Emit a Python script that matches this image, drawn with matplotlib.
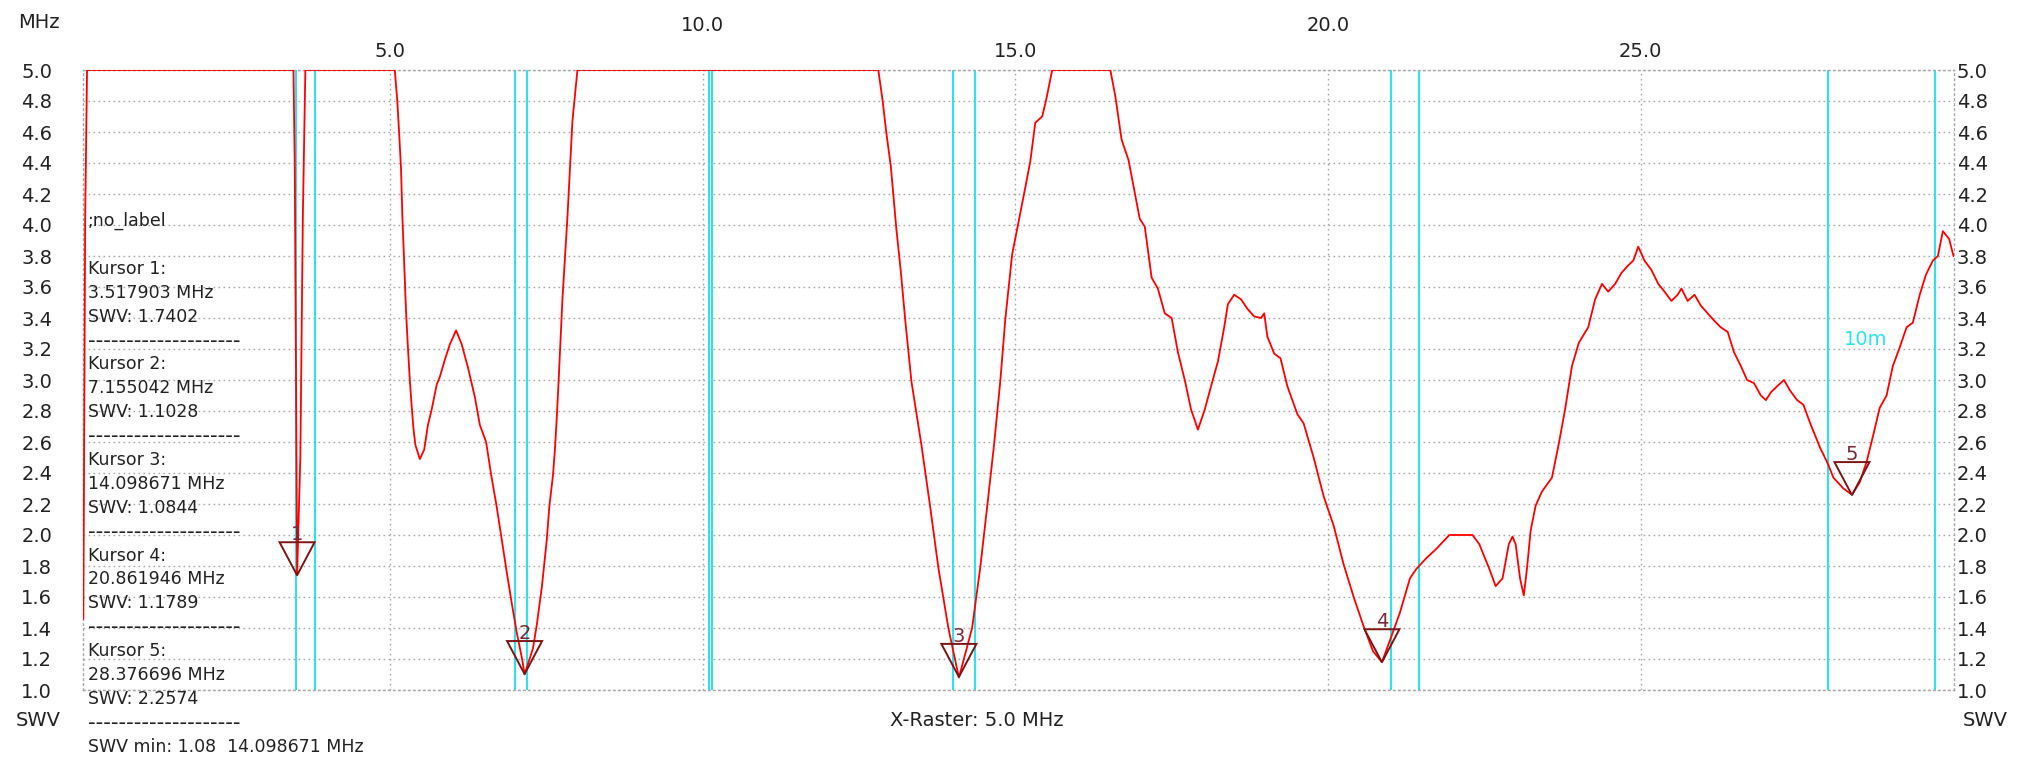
import numpy as np
import matplotlib
matplotlib.use('Agg')
import matplotlib.pyplot as plt
from matplotlib.patches import Polygon

W, H = 2038, 760

# gemessene SWV-Kurve (MHz, SWV)
freq = [0.10, 0.11, 0.13, 0.16,
        3.46, 3.48, 3.50, 3.518, 3.57, 3.61, 3.65,
        5.08, 5.12, 5.15, 5.18, 5.20, 5.23, 5.26, 5.29, 5.32, 5.35, 5.38, 5.41, 5.48, 5.55,
        5.61, 5.67, 5.75, 5.80, 5.88, 5.96, 6.06, 6.15, 6.25, 6.36, 6.44, 6.54, 6.62, 6.71,
        6.79, 6.87, 6.95, 7.03, 7.12, 7.155, 7.29, 7.35, 7.43, 7.51, 7.55, 7.61, 7.64, 7.67,
        7.70, 7.76, 7.84, 7.92, 8.00,
        12.81, 12.88, 12.94, 13.01, 13.05, 13.10, 13.17, 13.24, 13.34, 13.50, 13.64, 13.77,
        13.93, 14.099, 14.31, 14.44, 14.55, 14.66, 14.76, 14.84, 14.95, 15.14, 15.24, 15.32,
        15.43, 15.49, 15.59,
        16.52, 16.60, 16.70, 16.81, 16.91, 16.99, 17.07, 17.18, 17.28, 17.39, 17.50, 17.60,
        17.71, 17.81, 17.92, 18.03, 18.13, 18.24, 18.34, 18.40, 18.50, 18.61, 18.71, 18.82,
        18.93, 18.98, 19.03, 19.14, 19.24, 19.35, 19.51, 19.61, 19.77, 19.93, 20.09, 20.25,
        20.41, 20.57, 20.72, 20.862, 20.99, 21.15, 21.31, 21.41, 21.57, 21.73, 21.94, 22.31,
        22.42, 22.58, 22.68, 22.79, 22.89, 22.95, 23.00, 23.07, 23.13, 23.18, 23.24, 23.32,
        23.42, 23.58, 23.69, 23.79, 23.90, 24.01, 24.16, 24.27, 24.38, 24.48, 24.59, 24.69,
        24.80, 24.88, 24.96, 25.06, 25.17, 25.28, 25.38, 25.49, 25.59, 25.65, 25.75, 25.86,
        25.96, 26.07, 26.18, 26.28, 26.39, 26.49, 26.60, 26.70, 26.81, 26.92, 27.00, 27.08,
        27.18, 27.29, 27.39, 27.50, 27.60, 27.71, 27.87, 27.98, 28.08, 28.24, 28.377, 28.50,
        28.61, 28.72, 28.82, 28.93, 29.03, 29.14, 29.25, 29.35, 29.46, 29.56, 29.67, 29.75,
        29.83, 29.93, 30.00]
swv = [1.46, 2.27, 4.05, 5.0,
       5.0, 4.4, 3.1, 1.74, 2.5, 4.05, 5.0,
       5.0, 4.80, 4.59, 4.36, 4.07, 3.76, 3.44, 3.21, 3.0, 2.83, 2.68, 2.58, 2.49, 2.55,
       2.71, 2.81, 2.97, 3.02, 3.13, 3.23, 3.32, 3.23, 3.08, 2.89, 2.71, 2.60, 2.39, 2.18,
       1.97, 1.76, 1.56, 1.37, 1.19, 1.10, 1.27, 1.42, 1.66, 1.97, 2.18, 2.39, 2.55, 2.76,
       3.0, 3.52, 4.05, 4.67, 5.0,
       5.0, 4.80, 4.59, 4.38, 4.20, 3.97, 3.70, 3.39, 2.99, 2.58, 2.18, 1.79,
       1.40, 1.08, 1.40, 1.79, 2.18, 2.58, 2.99, 3.39, 3.81, 4.20, 4.41, 4.66,
       4.70, 4.80, 5.0,
       5.0, 4.83, 4.55, 4.42, 4.21, 4.04, 3.99, 3.66, 3.59, 3.43, 3.40, 3.18,
       3.0, 2.81, 2.68, 2.81, 2.96, 3.12, 3.34, 3.49, 3.55, 3.52, 3.46, 3.41,
       3.40, 3.43, 3.28, 3.17, 3.14, 2.96, 2.78, 2.72, 2.50, 2.25, 2.06, 1.81,
       1.60, 1.41, 1.25, 1.18, 1.32, 1.50, 1.72, 1.78, 1.85, 1.91, 2.0, 2.0,
       1.94, 1.78, 1.67, 1.72, 1.94, 1.99, 1.94, 1.72, 1.61, 1.78, 2.03, 2.19,
       2.28, 2.37, 2.59, 2.81, 3.09, 3.24, 3.34, 3.52, 3.62, 3.57, 3.62, 3.69,
       3.74, 3.77, 3.86, 3.77, 3.71, 3.62, 3.57, 3.51, 3.55, 3.59, 3.51, 3.55,
       3.48, 3.43, 3.38, 3.34, 3.31, 3.18, 3.09, 3.0, 2.98, 2.90, 2.87, 2.92,
       2.96, 3.0, 2.93, 2.87, 2.84, 2.72, 2.56, 2.47, 2.37, 2.30, 2.26, 2.34,
       2.47, 2.65, 2.82, 2.90, 3.09, 3.21, 3.34, 3.37, 3.55, 3.68, 3.77, 3.80,
       3.96, 3.91, 3.80]

cursor_freq = [3.517903, 7.155042, 14.098671, 20.861946, 28.376696]
cursor_swv = [1.7402, 1.1028, 1.0844, 1.1789, 2.2574]

# Amateurfunkbaender (Anfang, Ende)
band_start = [3.5, 7.0, 10.1, 14.0, 21.0, 28.0]
band_stop = [3.8, 7.2, 10.15, 14.35, 21.45, 29.7]
band_name = '10m'

f_start, f_stop = 0.1, 30.0
y_ticks = np.round(np.arange(1.0, 5.01, 0.2), 1)
x_row1 = [5.0, 15.0, 25.0]
x_row2 = [10.0, 20.0]

txt_col = '#222222'
grid_col = '#a8a8a8'
cyan = '#29e4ec'
mark_col = '#7d1414'
dots = (0, (1.2, 2.4))

fig = plt.figure(figsize=(W / 100, H / 100), dpi=100)
x0 = 83.3 / W
x1 = 1953.5 / W
ax = fig.add_axes([x0, 70 / H, x1 - x0, 620 / H])
ax.set_xlim(f_start, f_stop)
ax.set_ylim(1.0, 5.0)

for s in ax.spines.values():
    s.set_linestyle(dots)
    s.set_color(grid_col)
    s.set_linewidth(1.0)

ax.set_yticks(y_ticks, labels=[f'{v:.1f}' for v in y_ticks])
ax.xaxis.tick_top()
ax.set_xticks(x_row1, labels=[f'{v:.1f}' for v in x_row1])
ax.set_xticks(x_row2, labels=[f'{v:.1f}' for v in x_row2], minor=True)
ax.grid(True, which='both', color=grid_col, linestyle=dots, linewidth=1.0)
ax.tick_params(axis='y', length=0, pad=22.4, labelsize=14, labelcolor=txt_col)
ax.tick_params(axis='x', which='major', length=0, pad=6.5, labelsize=14, labelcolor=txt_col)
ax.tick_params(axis='x', which='minor', length=0, pad=25, labelsize=14, labelcolor=txt_col)

ax2 = ax.twinx()
ax2.set_ylim(1.0, 5.0)
ax2.set_yticks(y_ticks, labels=[f'{v:.1f}' for v in y_ticks])
ax2.tick_params(axis='y', length=0, pad=2.5, labelsize=14, labelcolor=txt_col)
for s in ax2.spines.values():
    s.set_visible(False)

# Baender
for a, b in zip(band_start, band_stop):
    ax.axvline(a, color=cyan, lw=1.45, zorder=2)
    ax.axvline(b, color=cyan, lw=1.45, zorder=2)
ax.text(28.6, 3.26, band_name, color=cyan, fontsize=14, ha='center', va='center')

ax.plot(freq, swv, color='#ff0000', lw=1.3, zorder=4)

# Kursor-Dreiecke
tri_h, tri_w = 0.213, 0.28
for i, (f, v) in enumerate(zip(cursor_freq, cursor_swv)):
    tri = Polygon([(f - tri_w, v + tri_h), (f + tri_w, v + tri_h), (f, v)],
                  closed=True, fill=False, edgecolor=mark_col, lw=1.4, zorder=5)
    ax.add_patch(tri)
    ax.annotate(str(i + 1), (f, v + tri_h), xytext=(0, 1.5), textcoords='offset points',
                ha='center', va='baseline', color='#7a2636', fontsize=14, zorder=6)

# Beschriftungen ausserhalb
def ftext(x, y, s, **kw):
    kw.setdefault('fontsize', 14)
    kw.setdefault('color', txt_col)
    kw.setdefault('va', 'center')
    fig.text(x / W, 1 - y / H, s, **kw)

ftext(18, 22, 'MHz')
ftext(16, 721, 'SWV')
ftext(1963, 721, 'SWV')
ftext(890, 721, 'X-Raster: 5.0 MHz')

lines = [';no_label', '']
for i in range(len(cursor_freq)):
    lines += [f'Kursor {i + 1}:', f'{cursor_freq[i]:.6f} MHz',
              f'SWV: {cursor_swv[i]:.4f}', '-' * 20]
k = int(np.argmin(cursor_swv))
lines.append(f'SWV min: {cursor_swv[k]:.2f}  {cursor_freq[k]:.6f} MHz')
for n, s in enumerate(lines):
    if not s:
        continue
    # Trennlinie etwas groesser, damit sie so breit wird wie im Original
    size = 15.5 if s.startswith('---') else 12.5
    ftext(88, 221 + n * 23.9, s, fontsize=size)

fig.savefig('out.png', dpi=100, facecolor='white')
